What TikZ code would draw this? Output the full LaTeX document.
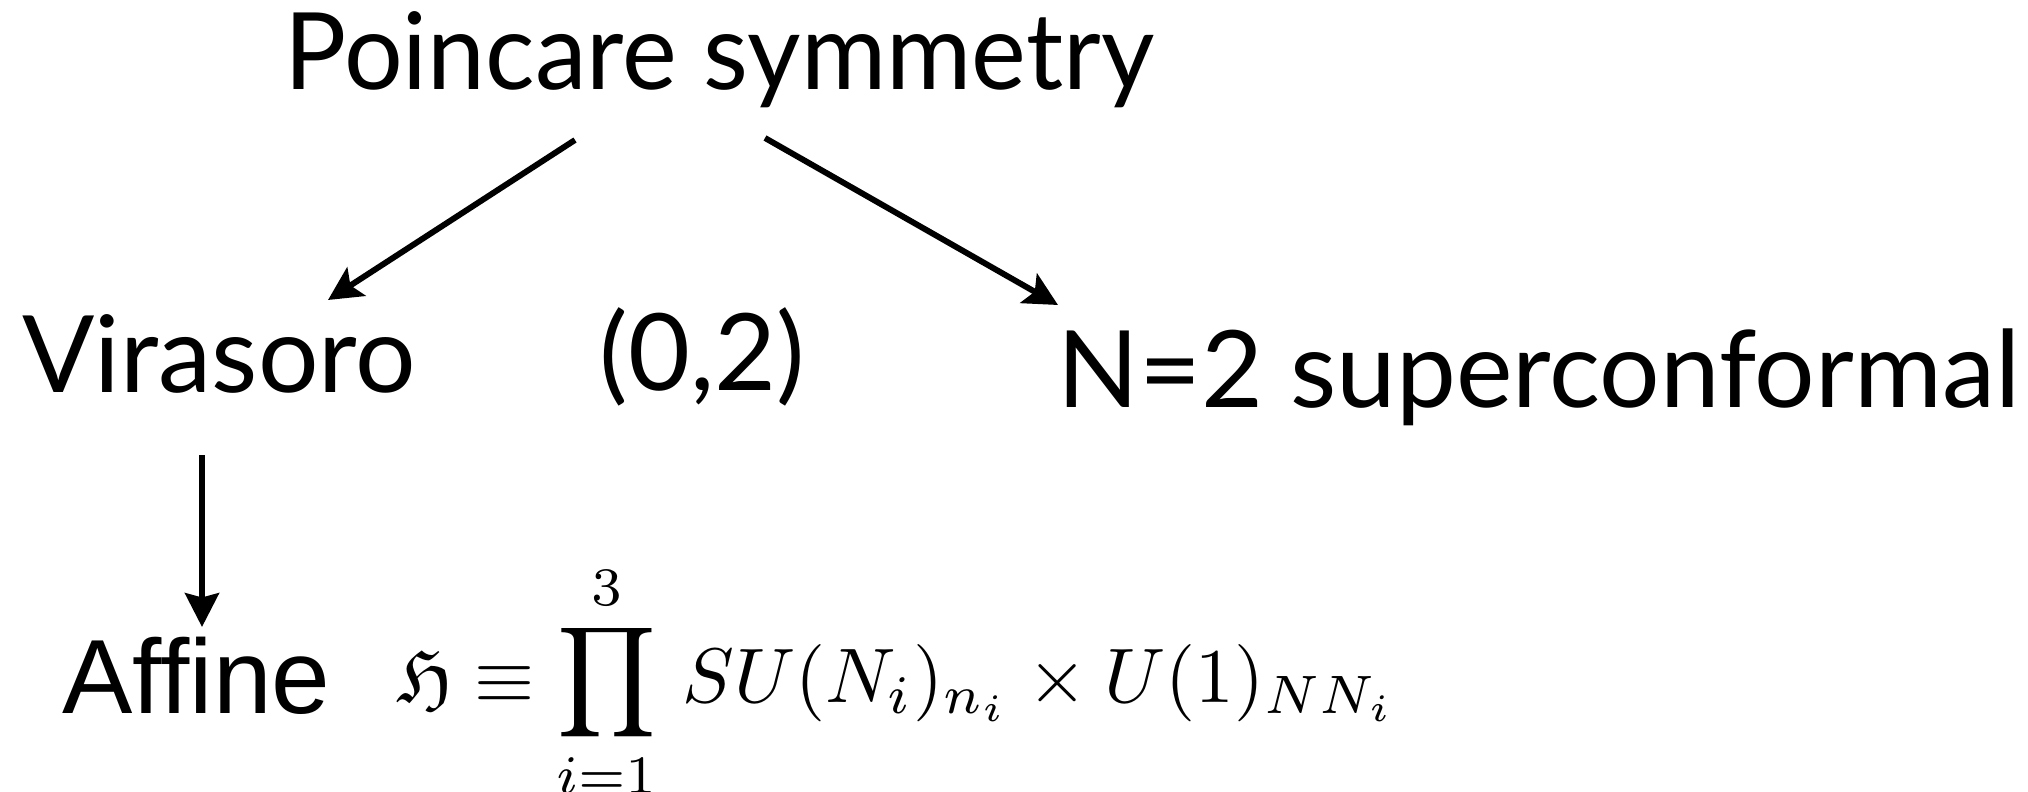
\documentclass[tikz,border=0pt]{standalone}
\usepackage{amssymb}
\usepackage{fontspec}
\newfontfamily\slidefont{Lato}
\newfontfamily\arialfont{Liberation Sans}
\usetikzlibrary{arrows.meta,calc}
\tikzset{
  word/.style={anchor=base west, inner sep=0pt, font=\slidefont\fontsize{38}{40}\selectfont},
  arr/.style={-{Stealth[length=12pt,width=12pt,inset=2.5pt]}, line width=2.1pt},
  downarr/.style={-{Stealth[length=12pt,width=12pt,inset=1.5pt]}, line width=2.2pt}
}
\begin{document}
\begin{tikzpicture}[x=0.0125cm,y=-0.0125cm]
    \useasboundingbox (0,0) rectangle (2028,792);
%    \draw [color=gray] [step=100] (0,0) grid (2028,792);
    \node[word, xscale=0.97] (poinc) at (284,90) {Poincare symmetry};
    \node[word] (vir) at (22,392) {Virasoro};
    \node[word] (zt) at (599,391) {(0,2)};
    \node[word] (sc) at (1057,408) {N=2 superconformal};
    \node[word, font=\arialfont\fontsize{37.5}{40}\selectfont] (aff) at (62,713) {Affine};
    \node[anchor=base west, inner sep=0pt, scale=2.75] (hgrp) at (396,702)
      {$\displaystyle \mathfrak{H}\equiv\prod_{i=1}^{3}\,SU(N_i)_{n_i}\times U(1)_{NN_i}$};

    \draw[arr] ($(poinc.base west)+(291,50)$) -- ($(vir.base west)+(306,-92)$);
    \draw[arr] ($(poinc.base west)+(481,48)$) -- ($(sc.base west)+(1,-103)$);
    \draw[downarr] ($(vir.base west)+(180,63)$) -- ($(aff.base west)+(140,-86)$);
\end{tikzpicture}
\end{document}
